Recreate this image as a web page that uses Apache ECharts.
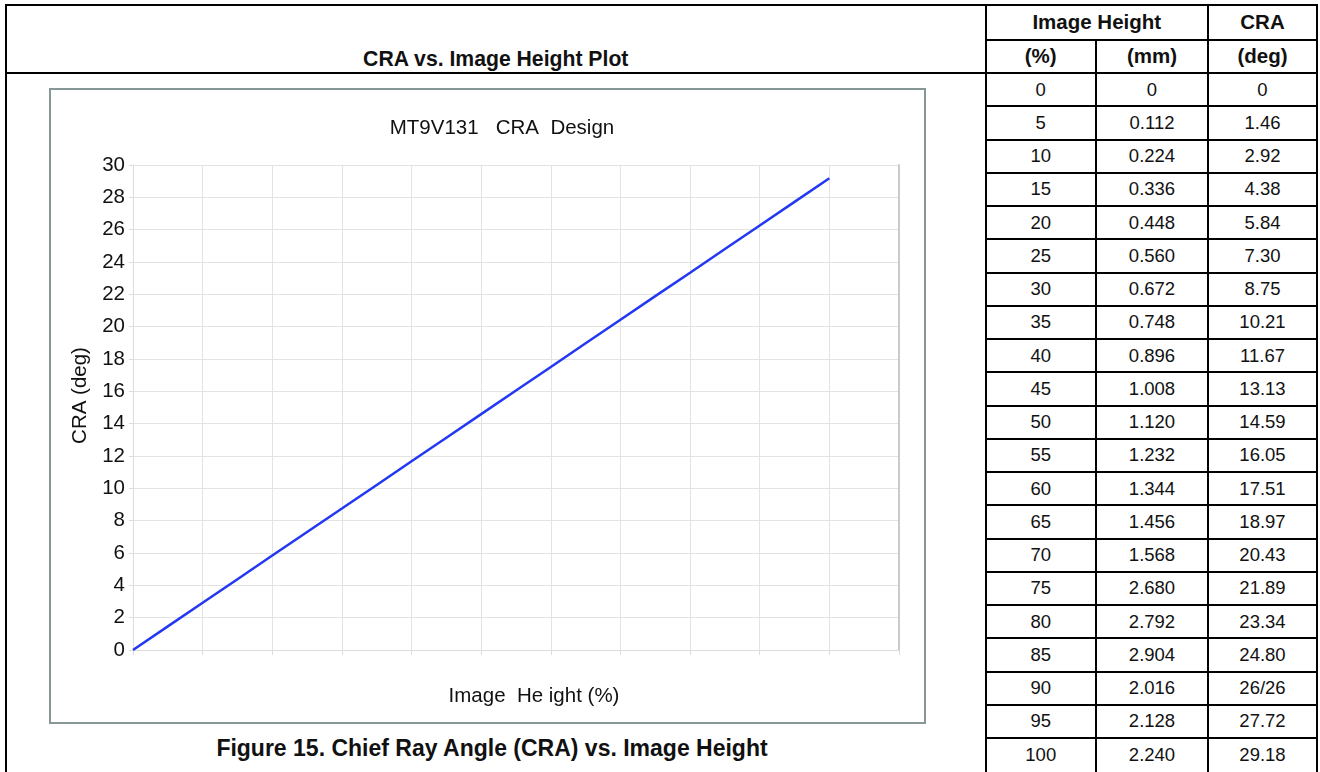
<!DOCTYPE html>
<html>
<head>
<meta charset="utf-8">
<script src="https://cdn.jsdelivr.net/npm/echarts@6/dist/echarts.min.js"></script>
<style>
  html, body { margin: 0; padding: 0; background: #fff; overflow: hidden; }
  body { width: 1320px; height: 772px; position: relative; font-family: "Liberation Sans", Arial, Helvetica, sans-serif; color: #111; }
  .cell { position: absolute; box-sizing: border-box; border: 2px solid #000; display: flex; align-items: center; justify-content: center; font-size: 18.5px; }
  .head { font-weight: bold; font-size: 20.5px; }
  #chart { position: absolute; left: 49px; top: 88px; width: 873px; height: 632px; border: 2px solid #869896; background: #fff; }
  #caption { position: absolute; left: 2px; width: 980px; top: 735px; text-align: center; font-weight: bold; font-size: 23px; }
</style>
</head>
<body>
<div id="chart"></div>
<div id="caption">Figure 15. Chief Ray Angle (CRA) vs. Image Height</div>
<script>
// table / plot data
var heightPct = [0, 5, 10, 15, 20, 25, 30, 35, 40, 45, 50, 55, 60, 65, 70, 75, 80, 85, 90, 95, 100];
var heightMm = ['0', '0.112', '0.224', '0.336', '0.448', '0.560', '0.672', '0.748', '0.896', '1.008', '1.120',
    '1.232', '1.344', '1.456', '1.568', '2.680', '2.792', '2.904', '2.016', '2.128', '2.240'];
var craText = ['0', '1.46', '2.92', '4.38', '5.84', '7.30', '8.75', '10.21', '11.67', '13.13', '14.59',
    '16.05', '17.51', '18.97', '20.43', '21.89', '23.34', '24.80', '26/26', '27.72', '29.18'];
var craDeg = [0, 1.46, 2.92, 4.38, 5.84, 7.30, 8.75, 10.21, 11.67, 13.13, 14.59,
    16.05, 17.51, 18.97, 20.43, 21.89, 23.34, 24.80, 26.26, 27.72, 29.18];
var yTicks = [0, 2, 4, 6, 8, 10, 12, 14, 16, 18, 20, 22, 24, 26, 28, 30];

// table layout
var colX = [6, 985.5, 1096, 1208, 1317];
var rowTop = 73, rowH = 33.25;

function cell(x0, y0, x1, y1, text, cls) {
    var d = document.createElement('div');
    d.className = 'cell' + (cls ? ' ' + cls : '');
    d.style.left = (x0 - 1) + 'px';
    d.style.top = (y0 - 1) + 'px';
    d.style.width = (x1 - x0 + 2) + 'px';
    d.style.height = (y1 - y0 + 2) + 'px';
    d.textContent = text;
    document.body.insertBefore(d, document.getElementById('chart'));
    return d;
}

var lh = cell(colX[0], 5, colX[1], rowTop, 'CRA vs. Image Height Plot', 'head');
lh.style.alignItems = 'flex-end';
lh.style.paddingBottom = '1px';
lh.style.fontSize = '21.2px';
cell(colX[1], 5, colX[3], 39.5, 'Image Height', 'head');
cell(colX[3], 5, colX[4], 39.5, 'CRA', 'head');
cell(colX[1], 39.5, colX[2], rowTop, '(%)', 'head');
cell(colX[2], 39.5, colX[3], rowTop, '(mm)', 'head');
cell(colX[3], 39.5, colX[4], rowTop, '(deg)', 'head');
cell(colX[0], rowTop, colX[1], 900, '');
for (var i = 0; i < heightPct.length; i++) {
    var y0 = rowTop + i * rowH, y1 = y0 + rowH;
    if (i === heightPct.length - 1) {
        // last row runs off the bottom of the page
        var c1 = cell(colX[1], y0, colX[2], y1 + 10, String(heightPct[i]));
        var c2 = cell(colX[2], y0, colX[3], y1 + 10, heightMm[i]);
        var c3 = cell(colX[3], y0, colX[4], y1 + 10, craText[i]);
        [c1, c2, c3].forEach(function (c) { c.style.paddingBottom = '10px'; });
    } else {
        cell(colX[1], y0, colX[2], y1, String(heightPct[i]));
        cell(colX[2], y0, colX[3], y1, heightMm[i]);
        cell(colX[3], y0, colX[4], y1, craText[i]);
    }
}

var points = heightPct.map(function (p, i) { return [p, craDeg[i]]; });
var font = '"Liberation Sans", Arial, Helvetica, sans-serif';

var myChart = echarts.init(document.getElementById('chart'));
myChart.setOption({
    animation: false,
    textStyle: { fontFamily: font },
    title: {
        text: 'MT9V131   CRA  Design',
        left: 446,
        textAlign: 'center',
        top: 23,
        textStyle: { fontWeight: 'normal', fontSize: 20.5, color: '#111', fontFamily: font }
    },
    grid: { left: 82, top: 75, width: 766, height: 485 },
    xAxis: {
        type: 'value',
        min: 0,
        max: 110,
        interval: 10,
        name: 'Image  He ight (%)',
        nameLocation: 'middle',
        nameGap: 36,
        nameTextStyle: { fontSize: 20.5, color: '#111', padding: [0, 0, 0, 36] },
        axisLine: { lineStyle: { color: '#dcdcdc' } },
        axisTick: { show: true, length: 5, lineStyle: { color: '#dcdcdc' } },
        axisLabel: { show: false },
        splitLine: { lineStyle: { color: '#e3e3e3' } }
    },
    yAxis: [{
        type: 'value',
        min: yTicks[0],
        max: yTicks[yTicks.length - 1],
        interval: yTicks[1] - yTicks[0],
        name: 'CRA (deg)',
        nameLocation: 'middle',
        nameRotate: 90,
        nameGap: 38,
        nameTextStyle: { fontSize: 20.5, color: '#111', padding: [0, 0, 0, 24] },
        axisLine: { show: true, lineStyle: { color: '#dcdcdc' } },
        axisTick: { show: true, length: 4, lineStyle: { color: '#dcdcdc' } },
        axisLabel: { fontSize: 20.5, color: '#111', margin: 8 },
        splitLine: { lineStyle: { color: '#e3e3e3' } }
    }, {
        type: 'value',
        position: 'right',
        min: yTicks[0],
        max: yTicks[yTicks.length - 1],
        axisLine: { show: true, lineStyle: { color: '#c6cbcb', width: 2 } },
        axisTick: { show: false },
        axisLabel: { show: false },
        splitLine: { show: false }
    }],
    series: [{
        type: 'line',
        data: points,
        symbol: 'none',
        lineStyle: { color: '#2338f3', width: 2.5 },
        itemStyle: { color: '#2338f3' }
    }]
});
</script>
</body>
</html>
